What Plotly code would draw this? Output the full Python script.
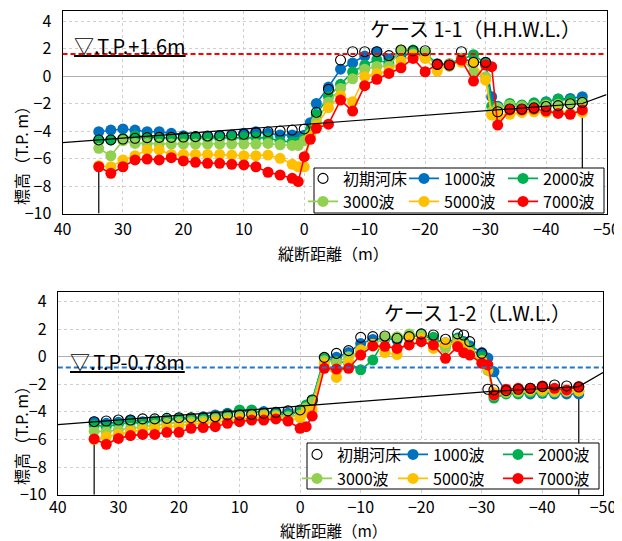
import plotly.graph_objects as go

W, H = 622, 541
FONT = "Noto Sans CJK JP"
PAGE_OFFSET = 8  # default body margin of the html page

# ---------------- data ----------------
SERIES_NAMES = ["初期河床", "1000波", "2000波", "3000波", "5000波", "7000波"]
COLORS = ["#000000", "#0070C0", "#00B050", "#92D050", "#FFC000", "#FF0000"]

X_TOP = [34, 32, 30, 28, 26, 24, 22, 20, 18, 16, 14, 12, 10, 8, 6, 4, 2,
         1, 0, -1,
         -2, -4, -6, -8, -10, -12, -14, -16, -18, -20, -22, -24, -26, -28, -30,
         -31,
         -32, -34, -36, -38, -40, -42, -44, -46]

TOP_INIT = [-4.65, -4.65, -4.58, -4.53, -4.48, -4.46, -4.46, -4.44, -4.41, -4.36, -4.34, -4.29, -4.24, -4.12, -4.05, -4.0, -3.93,
            None, -3.85, None,
            -2.64, -0.97, 1.16, 1.77, 1.77, 1.77, 1.48, 1.89, 1.84, 1.84, 0.85, 0.8, 1.77, 0.99, 0.99,
            None,
            -2.6, -2.4, -2.4, -2.32, -2.22, -2.15, -2.02, -1.92]
TOP_1000 = [-4.05, -3.93, -3.85, -3.93, -4.05, -4.05, -4.17, -4.34, -4.41, -4.41, -4.34, -4.34, -4.17, -4.05, -4.17, -4.29, -4.29,
            -4.4, -4.3, -3.4,
            -2.0, -0.8, 0.5, 0.95, 1.45, 1.77, 1.25, 1.5, 1.6, 1.5, 0.9, 0.85, 1.3, 1.0, 1.0,
            -1.5,
            -2.2, -2.16, -2.16, -2.0, -1.87, -1.67, -1.63, -1.5]
TOP_2000 = [-4.7, -4.65, -4.55, -4.35, -4.45, -4.5, -4.5, -4.5, -4.5, -4.5, -4.5, -4.45, -4.45, -4.45, -4.5, -4.75, -4.8,
            -4.8, -4.5, -3.9,
            -2.8, -1.5, -0.6, 0.3, 0.8, 1.2, 0.9, 1.8, 1.89, 1.7, 0.85, 0.9, 1.2, 1.55, 0.9,
            -2.2,
            -2.3, -2.0, -2.1, -1.95, -1.9, -1.67, -1.75, -1.87]
TOP_3000 = [-5.26, -5.8, -4.7, -4.9, -4.9, -4.95, -4.95, -4.95, -4.95, -4.95, -4.95, -4.95, -4.95, -4.95, -4.9, -5.0, -5.05,
            -5.05, -4.7, -4.2,
            -3.3, -1.9, -0.9, -0.2, 0.5, 0.7, 0.7, 1.9, 1.6, 1.7, 0.6, 0.7, 1.3, 0.3, -0.05,
            -2.6,
            -2.3, -2.1, -2.2, -2.15, -2.1, -2.05, -2.0, -1.9]
TOP_5000 = [-6.52, -6.6, -6.1, -5.8, -5.38, -5.38, -5.7, -5.7, -5.7, -5.7, -5.7, -5.75, -5.8, -5.8, -5.75, -5.99, -6.42,
            -6.6, -6.6, -4.4,
            -3.6, -2.3, -1.43, -1.87, -0.05, 0.19, 0.36, 1.09, 1.53, 1.28, 0.36, 0.85, 1.0, 0.99, -0.3,
            -2.84,
            -2.84, -2.79, -2.65, -2.6, -2.65, -2.65, -2.7, -2.65]
TOP_7000 = [-6.6, -7.08, -6.6, -6.1, -6.04, -6.1, -5.94, -6.18, -6.28, -6.35, -6.35, -6.42, -6.47, -6.6, -7.0, -7.2, -7.44,
            -7.68, -5.87, -4.6,
            -3.8, -3.5, -1.75, -2.55, -0.7, -0.24, 0.19, 0.6, 1.28, 0.31, 0.85, 0.8, 1.16, -0.37, 0.8,
            0.68,
            -3.57, -2.47, -2.47, -2.4, -2.55, -2.72, -2.79, -2.47]

X_BOT = [34, 32, 30, 28, 26, 24, 22, 20, 18, 16, 14, 12, 10, 8, 6, 4, 2,
         0, -1, -2,
         -4, -6, -8, -10, -12, -14, -16, -18, -20, -22, -24,
         -26, -27, -28,
         -30, -31, -32,
         -34, -36, -38, -40, -42, -44, -46]

BOT_INIT = [-4.71, -4.66, -4.59, -4.59, -4.51, -4.51, -4.47, -4.42, -4.42, -4.42, -4.35, -4.22, -4.22, -4.18, -4.1, -4.03, -3.93,
            -3.86, None, -3.14,
            -0.05, 0.24, 0.44, 1.4, 1.45, 1.5, 1.33, 1.45, 1.65, 1.57, 1.26,
            1.65, 1.57, 1.09,
            0.24, -2.36, -2.4,
            -2.46, -2.36, -2.29, -2.17, -2.05, -2.12, -2.2]
BOT_1000 = [-4.71, -4.83, -4.76, -4.59, -4.71, -4.66, -4.59, -4.47, -4.47, -4.35, -4.22, -4.1, -3.93, -3.98, -3.98, -4.03, -4.1,
            -4.03, -3.6, -3.2,
            -0.1, -0.05, 0.3, 0.95, 1.25, 1.35, 1.2, 1.45, 1.55, 1.3, 1.0,
            1.35, 1.1, 0.8,
            0.3, -0.1, -1.1,
            -2.6, -2.65, -2.7, -2.65, -2.7, -2.7, -2.7]
BOT_2000 = [-4.95, -5.07, -4.9, -4.76, -4.83, -4.66, -4.59, -4.51, -4.47, -4.47, -4.35, -4.18, -3.86, -3.86, -4.1, -4.18, -4.22,
            -4.0, -3.5, -3.14,
            -0.1, -0.35, -0.45, -0.95, -0.25, 1.3, 1.4, 1.5, 1.6, 1.4, 0.8,
            1.3, 1.0, 0.6,
            0.0, -0.8, -3.0,
            -2.7, -2.7, -2.6, -2.6, -2.6, -2.55, -2.5]
BOT_3000 = [-5.4, -5.43, -5.3, -5.19, -5.07, -4.95, -4.83, -4.76, -4.71, -4.66, -4.51, -4.42, -4.27, -4.22, -4.18, -4.27, -4.35,
            -4.22, -3.7, -3.3,
            -0.3, -0.4, 0.0, 0.4, 0.8, 1.4, 1.45, 1.65, 1.55, 0.9, 0.6,
            1.2, 0.9, 0.2,
            -0.3, -1.0, -2.8,
            -2.6, -2.55, -2.5, -2.5, -2.55, -2.5, -2.45]
BOT_5000 = [-6.0, -5.8, -5.63, -5.43, -5.31, -5.19, -5.07, -5.0, -4.9, -4.83, -4.71, -4.66, -4.51, -4.42, -4.35, -4.35, -4.59,
            -4.44, -4.0, -3.8,
            -0.5, -1.5, -0.4, 0.5, 0.9, 0.3, 0.15, 1.3, 1.3, 0.6, 1.0,
            0.9, 0.7, 0.3,
            -0.3, -0.9, -2.6,
            -2.5, -2.45, -2.4, -2.4, -2.45, -2.5, -2.5]
BOT_7000 = [-5.96, -6.35, -5.92, -5.72, -5.63, -5.63, -5.48, -5.48, -5.19, -5.14, -5.07, -4.83, -4.71, -4.59, -4.59, -4.51, -4.66,
            -5.19, -5.07, -4.3,
            -0.84, -0.9, -0.84, 0.12, 0.78, 0.75, 0.6, 0.85, 1.09, 0.85, -0.12,
            0.73, 0.29, 0.12,
            -0.48, -0.6, -2.77,
            -2.36, -2.29, -2.29, -2.12, -2.29, -2.41, -2.17]

# reference (black) bed line and end walls
SLOPE_X = [40, -31, -46, -50]
SLOPE_TOP_Y = [-4.85, -2.5, -2.0, -1.35]
SLOPE_BOT_Y = [-4.93, -2.53, -2.17, -1.15]
WALL_X = [34, 34, None, -46, -46]
WALL_TOP_Y = [-10, -6.6, None, -2.47, -10]
WALL_BOT_Y = [-10, -5.96, None, -2.17, -10]

WL_TOP = 1.6
WL_BOT = -0.78
WL_TOP_LABEL = "▽.T.P.+1.6m"
WL_BOT_LABEL = "▽.T.P-0.78m"
TITLE_TOP = "ケース 1-1（H.H.W.L.）"
TITLE_BOT = "ケース 1-2（L.W.L.）"
X_TITLE = "縦断距離（m）"
Y_TITLE = "標高（T.P. m）"

X_TICKS = [40, 30, 20, 10, 0, -10, -20, -30, -40, -50]
Y_TICKS = [-10, -8, -6, -4, -2, 0, 2, 4]

# ---------------- layout geometry (screen px) ----------------
TOP_BOX = dict(l=62.5, r=606.5, t=11.4, b=213.5)
BOT_BOX = dict(l=57.8, r=603.0, t=291.8, b=494.7)


def px(v):
    return (v - PAGE_OFFSET) / W


def py(v):
    return 1 - (v - PAGE_OFFSET) / H


fig = go.Figure()

panels = [
    ("x", "y", X_TOP, [TOP_INIT, TOP_1000, TOP_2000, TOP_3000, TOP_5000, TOP_7000], SLOPE_TOP_Y, WALL_TOP_Y),
    ("x2", "y2", X_BOT, [BOT_INIT, BOT_1000, BOT_2000, BOT_3000, BOT_5000, BOT_7000], SLOPE_BOT_Y, WALL_BOT_Y),
]

# legend placements: (item start x, row center y) per series
LEG_TOP = [(303, 178.5), (404, 178.5), (503, 178.5), (303, 201.5), (404, 201.5), (503, 201.5)]
LEG_BOT = [(297, 454.5), (393, 454.5), (498, 454.5), (297, 478.5), (393, 478.5), (498, 478.5)]

legend_defs = {}
leg_counter = [0]


def new_legend(pos):
    leg_counter[0] += 1
    name = "legend" if leg_counter[0] == 1 else f"legend{leg_counter[0]}"
    legend_defs[name] = dict(
        x=px(pos[0]), y=py(pos[1]), xanchor="left", yanchor="middle",
        bgcolor="rgba(0,0,0,0)", borderwidth=0,
        font=dict(family=FONT, size=16, color="#000000"),
        itemwidth=30, orientation="h",
    )
    return name


for pi, (xa, ya, xs, ys_list, slope_y, wall_y) in enumerate(panels):
    legpos = LEG_TOP if pi == 0 else LEG_BOT
    fig.add_trace(go.Scatter(x=WALL_X, y=wall_y, mode="lines", xaxis=xa, yaxis=ya,
                             line=dict(color="#000000", width=1.2), showlegend=False,
                             hoverinfo="skip"))
    for k in range(1, 6):
        lname = new_legend(legpos[k])
        fig.add_trace(go.Scatter(
            x=xs, y=ys_list[k], name=SERIES_NAMES[k], mode="lines+markers",
            xaxis=xa, yaxis=ya, legend=lname,
            line=dict(color=COLORS[k], width=1.6),
            marker=dict(color=COLORS[k], size=11, line=dict(width=0)),
            connectgaps=True,
        ))
    fig.add_trace(go.Scatter(x=SLOPE_X, y=slope_y, mode="lines", xaxis=xa, yaxis=ya,
                             line=dict(color="#000000", width=1.2), showlegend=False,
                             hoverinfo="skip"))
    lname = new_legend(legpos[0])
    fig.add_trace(go.Scatter(
        x=xs, y=ys_list[0], name=SERIES_NAMES[0], mode="markers",
        xaxis=xa, yaxis=ya, legend=lname,
        marker=dict(symbol="circle-open", color="#000000", size=10, line=dict(width=1.1)),
    ))

axis_common = dict(showline=True, linecolor="#000000", linewidth=1, mirror=True,
                   ticks="", showgrid=True, gridcolor="#D0D0D0", griddash="dot", gridwidth=1,
                   automargin=False, ticklabeloverflow="allow",
                   tickfont=dict(family=FONT, size=16, color="#000000"))

layout = dict(
    width=W, height=H, margin=dict(l=0, r=0, t=0, b=0, pad=0, autoexpand=False),
    paper_bgcolor="white", plot_bgcolor="white", showlegend=True,
    xaxis=dict(domain=[px(TOP_BOX["l"]), px(TOP_BOX["r"])], range=[40, -50], anchor="y",
               tickvals=X_TICKS, zeroline=False, ticklabelstandoff=1, **axis_common),
    yaxis=dict(domain=[py(TOP_BOX["b"]), py(TOP_BOX["t"])], range=[-10, 4.7], anchor="x",
               tickvals=Y_TICKS, zeroline=True, zerolinecolor="#B0B0B0", zerolinewidth=1,
               ticklabelstandoff=7, **axis_common),
    xaxis2=dict(domain=[px(BOT_BOX["l"]), px(BOT_BOX["r"])], range=[40, -50], anchor="y2",
                tickvals=X_TICKS, zeroline=False, ticklabelstandoff=-2, **axis_common),
    yaxis2=dict(domain=[py(BOT_BOX["b"]), py(BOT_BOX["t"])], range=[-10, 4.7], anchor="x2",
                tickvals=Y_TICKS, zeroline=True, zerolinecolor="#B0B0B0", zerolinewidth=1,
                ticklabelstandoff=7, **axis_common),
)
layout.update(legend_defs)
fig.update_layout(**layout)

# water level lines
fig.add_shape(type="line", xref="x", yref="y", x0=40, x1=-50, y0=WL_TOP, y1=WL_TOP,
              line=dict(color="#FF0000", width=2, dash="5px,3px"))
fig.add_shape(type="line", xref="x2", yref="y2", x0=40, x1=-50, y0=WL_BOT, y1=WL_BOT,
              line=dict(color="#1F77C8", width=2, dash="5px,3px"))

# legend boxes
fig.add_shape(type="rect", xref="paper", yref="paper", x0=px(314), x1=px(604), y0=py(213), y1=py(168),
              fillcolor="white", line=dict(color="#000000", width=1), layer="above")
fig.add_shape(type="rect", xref="paper", yref="paper", x0=px(307), x1=px(599), y0=py(489), y1=py(443),
              fillcolor="white", line=dict(color="#000000", width=1), layer="above")

ann_font = dict(family=FONT, color="#000000")
annotations = [
    dict(text=TITLE_TOP, x=px(475), y=py(28.5), size=20),
    dict(text=TITLE_BOT, x=px(477), y=py(312), size=20),
    dict(text=X_TITLE, x=px(333), y=py(252.5), size=16),
    dict(text=X_TITLE, x=px(333), y=py(529.5), size=15.5),
]
for a in annotations:
    fig.add_annotation(text=a["text"], x=a["x"], y=a["y"], xref="paper", yref="paper",
                       showarrow=False, xanchor="center", yanchor="middle",
                       font=dict(size=a["size"], **ann_font))
for yc in (152, 432):
    fig.add_annotation(text=Y_TITLE, x=px(21), y=py(yc), xref="paper", yref="paper",
                       showarrow=False, textangle=-90, xanchor="center", yanchor="middle",
                       font=dict(size=16, **ann_font))
fig.add_annotation(text="<u>" + WL_TOP_LABEL + "</u>", x=px(72), y=py(45.5), xref="paper", yref="paper",
                   showarrow=False, xanchor="left", yanchor="middle", font=dict(size=20, **ann_font))
fig.add_annotation(text="<u>" + WL_BOT_LABEL + "</u>", x=px(68), y=py(361), xref="paper", yref="paper",
                   showarrow=False, xanchor="left", yanchor="middle", font=dict(size=20, **ann_font))

fig.write_html("out.html")
